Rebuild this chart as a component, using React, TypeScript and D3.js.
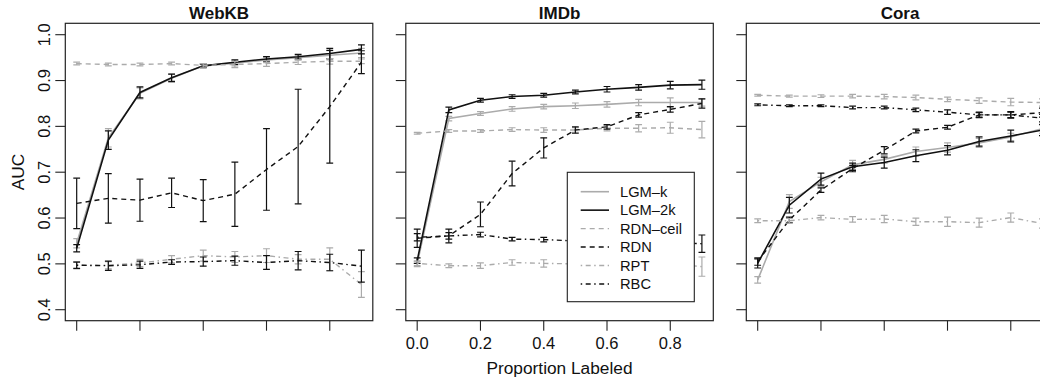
import React from "react";
import * as d3 from "d3";

const proportions = [0, 0.1, 0.2, 0.3, 0.4, 0.5, 0.6, 0.7, 0.8, 0.9];
const datasets = ["WebKB", "IMDb", "Cora"];
const seriesNames = ["LGM–k", "LGM–2k", "RDN–ceil", "RDN", "RPT", "RBC"];
const yTicks = [0.4, 0.5, 0.6, 0.7, 0.8, 0.9, 1.0];
const xTicks = [0, 0.2, 0.4, 0.6, 0.8];

// WebKB
const webkbLgmK = [0.545, 0.775, 0.872, 0.905, 0.932, 0.938, 0.945, 0.95, 0.955, 0.96];
const webkbLgmKErr = [0.01, 0.02, 0.012, 0.009, 0.004, 0.006, 0.006, 0.005, 0.01, 0.01];
const webkbLgm2k = [0.534, 0.77, 0.874, 0.906, 0.932, 0.94, 0.947, 0.952, 0.959, 0.968];
const webkbLgm2kErr = [0.008, 0.02, 0.012, 0.008, 0.004, 0.005, 0.005, 0.005, 0.011, 0.01];
const webkbRdnCeil = [0.937, 0.935, 0.935, 0.937, 0.933, 0.935, 0.937, 0.94, 0.942, 0.942];
const webkbRdnCeilErr = [0.003, 0.003, 0.003, 0.003, 0.004, 0.007, 0.006, 0.005, 0.006, 0.005];
const webkbRdn = [0.632, 0.643, 0.639, 0.655, 0.638, 0.652, 0.706, 0.756, 0.843, 0.94];
const webkbRdnErr = [0.055, 0.054, 0.046, 0.032, 0.046, 0.07, 0.089, 0.125, 0.123, 0.025];
const webkbRpt = [0.497, 0.497, 0.502, 0.51, 0.518, 0.515, 0.518, 0.51, 0.51, 0.455];
const webkbRptErr = [0.008, 0.008, 0.008, 0.008, 0.012, 0.012, 0.015, 0.01, 0.025, 0.028];
const webkbRbc = [0.497, 0.496, 0.498, 0.504, 0.505, 0.507, 0.503, 0.507, 0.503, 0.495];
const webkbRbcErr = [0.007, 0.01, 0.008, 0.005, 0.01, 0.01, 0.015, 0.02, 0.018, 0.035];

// IMDb
const imdbLgmK = [0.5, 0.817, 0.828, 0.838, 0.843, 0.845, 0.848, 0.852, 0.852, 0.852];
const imdbLgmKErr = [0.006, 0.005, 0.004, 0.005, 0.005, 0.006, 0.006, 0.007, 0.01, 0.008];
const imdbLgm2k = [0.507, 0.836, 0.857, 0.865, 0.868, 0.875, 0.881, 0.885, 0.89, 0.891];
const imdbLgm2kErr = [0.006, 0.006, 0.004, 0.004, 0.004, 0.004, 0.006, 0.006, 0.008, 0.01];
const imdbRdnCeil = [0.785, 0.79, 0.79, 0.793, 0.792, 0.792, 0.796, 0.796, 0.797, 0.793];
const imdbRdnCeilErr = [0.002, 0.003, 0.003, 0.004, 0.005, 0.005, 0.006, 0.008, 0.012, 0.018];
const imdbRdn = [0.556, 0.561, 0.608, 0.697, 0.753, 0.792, 0.799, 0.825, 0.837, 0.85];
const imdbRdnErr = [0.02, 0.015, 0.027, 0.027, 0.022, 0.007, 0.005, 0.005, 0.006, 0.01];
const imdbRpt = [0.501, 0.496, 0.496, 0.503, 0.501, 0.5, 0.5, 0.5, 0.5, 0.494];
const imdbRptErr = [0.005, 0.004, 0.006, 0.006, 0.008, 0.008, 0.008, 0.008, 0.01, 0.021];
const imdbRbc = [0.558, 0.561, 0.564, 0.554, 0.553, 0.55, 0.548, 0.547, 0.546, 0.544];
const imdbRbcErr = [0.008, 0.007, 0.005, 0.004, 0.005, 0.006, 0.006, 0.008, 0.01, 0.019];

// Cora
const coraLgmK = [0.465, 0.636, 0.679, 0.716, 0.728, 0.745, 0.754, 0.764, 0.777, 0.795];
const coraLgmKErr = [0.007, 0.015, 0.01, 0.01, 0.008, 0.01, 0.01, 0.01, 0.008, 0.01];
const coraLgm2k = [0.501, 0.628, 0.685, 0.712, 0.721, 0.736, 0.748, 0.767, 0.779, 0.792];
const coraLgm2kErr = [0.01, 0.017, 0.013, 0.008, 0.012, 0.013, 0.01, 0.01, 0.013, 0.012];
const coraRdnCeil = [0.868, 0.866, 0.866, 0.866, 0.865, 0.863, 0.859, 0.856, 0.853, 0.852];
const coraRdnCeilErr = [0.002, 0.002, 0.003, 0.004, 0.005, 0.005, 0.005, 0.006, 0.008, 0.008];
const coraRdn = [0.505, 0.596, 0.661, 0.708, 0.748, 0.79, 0.798, 0.825, 0.825, 0.83];
const coraRdnErr = [0.008, 0.006, 0.005, 0.007, 0.008, 0.004, 0.004, 0.005, 0.006, 0.01];
const coraRpt = [0.594, 0.594, 0.601, 0.597, 0.598, 0.592, 0.592, 0.59, 0.601, 0.588];
const coraRptErr = [0.004, 0.005, 0.005, 0.006, 0.008, 0.008, 0.01, 0.01, 0.01, 0.01];
const coraRbc = [0.847, 0.845, 0.845, 0.841, 0.841, 0.836, 0.831, 0.825, 0.825, 0.818];
const coraRbcErr = [0.002, 0.002, 0.002, 0.003, 0.003, 0.004, 0.005, 0.006, 0.007, 0.008];

const GRAY = "#ababab";
const BLACK = "#111111";
const FONT = "'Liberation Sans', Arial, Helvetica, sans-serif";

const styles = [
  { color: GRAY, dash: null as string | null, width: 1.6 },
  { color: BLACK, dash: null as string | null, width: 1.6 },
  { color: GRAY, dash: "5,4", width: 1.4 },
  { color: BLACK, dash: "5,4", width: 1.4 },
  { color: GRAY, dash: "1.5,3.5,5,3.5", width: 1.4 },
  { color: BLACK, dash: "1.5,3.5,5,3.5", width: 1.4 },
];

const panelData = [
  {
    means: [webkbLgmK, webkbLgm2k, webkbRdnCeil, webkbRdn, webkbRpt, webkbRbc],
    errs: [webkbLgmKErr, webkbLgm2kErr, webkbRdnCeilErr, webkbRdnErr, webkbRptErr, webkbRbcErr],
  },
  {
    means: [imdbLgmK, imdbLgm2k, imdbRdnCeil, imdbRdn, imdbRpt, imdbRbc],
    errs: [imdbLgmKErr, imdbLgm2kErr, imdbRdnCeilErr, imdbRdnErr, imdbRptErr, imdbRbcErr],
  },
  {
    means: [coraLgmK, coraLgm2k, coraRdnCeil, coraRdn, coraRpt, coraRbc],
    errs: [coraLgmKErr, coraLgm2kErr, coraRdnCeilErr, coraRdnErr, coraRptErr, coraRbcErr],
  },
];

export default function App() {
  const W = 1040;
  const H = 381;
  const panelLefts = [65.3, 405.8, 746.3];
  const panelW = 307.5;
  const top = 23.3;
  const bottom = 320.7;
  const y = d3.scaleLinear().domain([0.4, 1.0]).range([309.7, 34.7]);
  const capHalf = 3.4;

  return (
    <svg
      width={W}
      height={H}
      style={{ position: "absolute", left: 0, top: 0, background: "#fff" }}
      fontFamily={FONT}
    >
      <rect x={0} y={0} width={W} height={H} fill="#fff" />
      <defs>
        {panelLefts.map((l, i) => (
          <clipPath id={`clip${i}`} key={i}>
            <rect x={l} y={top} width={panelW} height={bottom - top} />
          </clipPath>
        ))}
      </defs>
      {datasets.map((name, pi) => {
        const left = panelLefts[pi];
        const x = d3.scaleLinear().domain([-0.036, 0.936]).range([left, left + panelW]);
        const pd = panelData[pi];
        return (
          <g key={name}>
            <g clipPath={`url(#clip${pi})`}>
              {pd.means.map((vals, si) => {
                const st = styles[si];
                const line = d3
                  .line<number>()
                  .x((_, i) => x(proportions[i]))
                  .y((v) => y(v));
                return (
                  <g key={si}>
                    <path
                      d={line(vals) || ""}
                      fill="none"
                      stroke={st.color}
                      strokeWidth={st.width}
                      strokeDasharray={st.dash || undefined}
                    />
                    {vals.map((v, i) => {
                      const e = pd.errs[si][i];
                      const cx = x(proportions[i]);
                      const y1 = y(v + e);
                      const y2 = y(v - e);
                      return (
                        <g key={i} stroke={st.color} strokeWidth={1.2}>
                          <line x1={cx} x2={cx} y1={y1} y2={y2} />
                          <line x1={cx - capHalf} x2={cx + capHalf} y1={y1} y2={y1} />
                          <line x1={cx - capHalf} x2={cx + capHalf} y1={y2} y2={y2} />
                        </g>
                      );
                    })}
                  </g>
                );
              })}
            </g>
            {/* box */}
            <rect
              x={left}
              y={top}
              width={panelW}
              height={bottom - top}
              fill="none"
              stroke="#222"
              strokeWidth={1.2}
            />
            {/* y ticks */}
            {yTicks.map((t) => (
              <line key={t} x1={left - 10} x2={left} y1={y(t)} y2={y(t)} stroke="#222" strokeWidth={1.1} />
            ))}
            {pi === 0 &&
              yTicks.map((t) => (
                <text
                  key={"l" + t}
                  transform={`translate(50,${y(t)}) rotate(-90)`}
                  textAnchor="middle"
                  fontSize={16.5}
                  fill="#111"
                >
                  {t.toFixed(1)}
                </text>
              ))}
            {/* x ticks */}
            {xTicks.map((t) => (
              <line key={t} x1={x(t)} x2={x(t)} y1={bottom} y2={bottom + 10} stroke="#222" strokeWidth={1.1} />
            ))}
            {pi === 1 &&
              xTicks.map((t) => (
                <text key={"xl" + t} x={x(t)} y={349} textAnchor="middle" fontSize={16.5} fill="#111">
                  {t.toFixed(1)}
                </text>
              ))}
            <text
              x={left + panelW / 2}
              y={18.5}
              textAnchor="middle"
              fontSize={17}
              fontWeight="bold"
              fill="#111"
            >
              {name}
            </text>
          </g>
        );
      })}
      <text x={559.5} y={373.5} textAnchor="middle" fontSize={17.3} fill="#111">
        Proportion Labeled
      </text>
      <text transform={`translate(23.5,${(top + bottom) / 2}) rotate(-90)`} textAnchor="middle" fontSize={17.3} fill="#111">
        AUC
      </text>
      {/* legend */}
      <g>
        <rect x={567.3} y={172.3} width={127} height={129.4} fill="#fff" stroke="#222" strokeWidth={1.1} />
        {seriesNames.map((n, i) => {
          const st = styles[i];
          const ly = 191.7 + i * 18.45;
          return (
            <g key={n}>
              <line
                x1={580.7}
                x2={609}
                y1={ly}
                y2={ly}
                stroke={st.color}
                strokeWidth={st.width}
                strokeDasharray={st.dash || undefined}
              />
              <text x={620} y={ly} dominantBaseline="central" fontSize={14.7} fill="#111">
                {n}
              </text>
            </g>
          );
        })}
      </g>
    </svg>
  );
}
